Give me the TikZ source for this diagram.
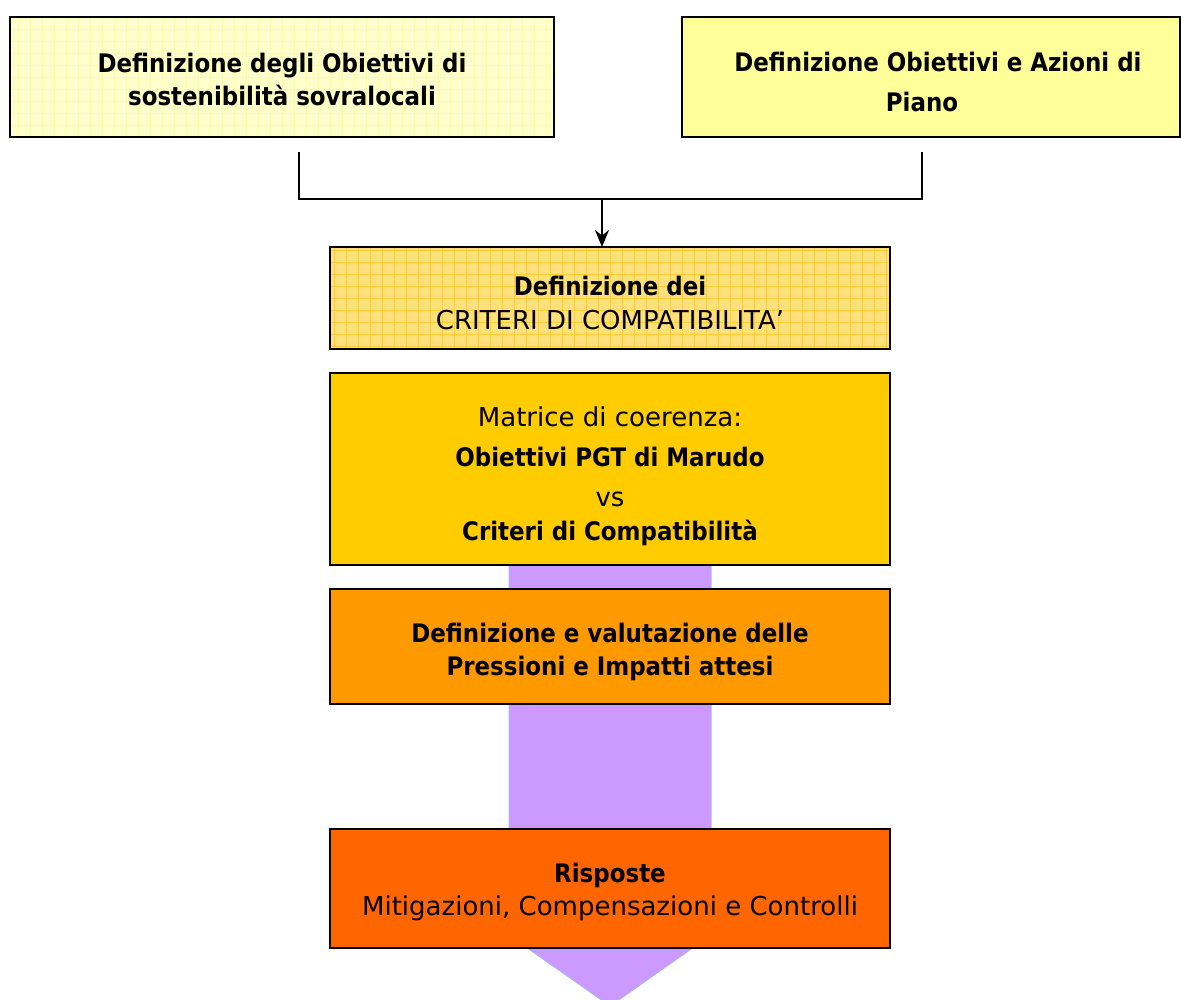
\documentclass[tikz,border=0pt]{standalone}
\usepackage{fontspec}
\setmainfont{DejaVu Sans}[BoldFont={DejaVu Sans Condensed Bold}]
\usetikzlibrary{arrows.meta}
\definecolor{lightY}{HTML}{FFFFCC}
\definecolor{lightYgrid}{HTML}{FFFF99}
\definecolor{plainY}{HTML}{FFFF99}
\definecolor{critFill}{HTML}{FFE07A}
\definecolor{critGrid}{HTML}{FFCC33}
\definecolor{gold}{HTML}{FFCC00}
\definecolor{orangeA}{HTML}{FF9900}
\definecolor{orangeB}{HTML}{FF6600}
\definecolor{lilac}{HTML}{CC99FF}
\definecolor{lilacEdge}{HTML}{A8B4FF}
\newcommand{\regsz}{\fontsize{26}{34}\selectfont\mdseries}
\newcommand{\bsz}[1]{\fontsize{25.5}{#1}\selectfont\bfseries}
\begin{document}
\begin{tikzpicture}[x=1pt,y=-1pt,
  box/.style={draw=black, line width=2.2pt, inner sep=0pt, outer sep=0pt},
  txt/.style={inner sep=0pt, align=center, text=black},
  gridded/.style={path picture={\draw[line width=1pt,#1,step=12pt]
      (path picture bounding box.south west) grid (path picture bounding box.north east);}},
  conn/.style={draw=black, line width=2pt},
  bt/.style={font=\bsz{33}},
]
\useasboundingbox (0,0) rectangle (1181,999);

% big lilac arrow (behind boxes)
\fill[lilac, draw=lilacEdge, line width=1pt]
  (509,560) -- (509,900) -- (459,900) -- (610,1006) -- (761,900) -- (711,900) -- (711,560) -- cycle;

% top boxes
\node[box, fill=lightY, gridded=lightYgrid, minimum width=544pt, minimum height=120pt] (b1) at (282,77) {};
\node[txt, bt] (t1) at ([yshift=-2pt]b1.center) {Definizione degli Obiettivi di\\sostenibilità sovralocali};

\node[box, fill=plainY, minimum width=498pt, minimum height=120pt] (b2) at (931,77) {};
\node[txt, font=\bsz{40}] (t2) at ([yshift=-5pt]b2.center)
  {\hspace*{14pt}Definizione Obiettivi e Azioni di\\Piano\hspace*{18pt}};

% criteria box
\node[box, fill=critFill, gridded=critGrid, minimum width=560pt, minimum height=102pt] (b3) at (610,298) {};
\node[txt, font=\regsz] (t3) at ([yshift=-5pt]b3.center)
  {{\bsz{34}Definizione dei}\\CRITERI DI COMPATIBILITA’};

% matrix box
\node[box, fill=gold, minimum width=560pt, minimum height=192pt] (b4) at (610,469) {};
\node[txt, font=\fontsize{26}{40}\selectfont] (t4) at ([yshift=-7pt]b4.center)
  {Matrice di coerenza:\\
    {\bsz{40}Obiettivi PGT di Marudo}\\
    vs\\[-6pt]
    {\bsz{40}Criteri di Compatibilità}};

% pressures box
\node[box, fill=orangeA, minimum width=560pt, minimum height=115pt] (b5) at (610,646.5) {};
\node[txt, bt] (t5) at ([yshift=-5pt]b5.center) {Definizione e valutazione delle\\Pressioni e Impatti attesi};

% responses box
\node[box, fill=orangeB, minimum width=560pt, minimum height=119pt] (b6) at (610,888.5) {};
\node[txt, font=\fontsize{26}{33}\selectfont] (t6) at ([yshift=-4pt]b6.center)
  {{\bsz{33}Risposte}\\Mitigazioni, Compensazioni e Controlli};

% connectors
\coordinate (c1) at (299,152);
\coordinate (c2) at (922,152);
\coordinate (j) at (602,199);
\draw[conn] (c1) -- (c1 |- j) -- (c2 |- j) -- (c2);
\draw[conn, -{Stealth[length=17pt,width=14pt]}] (j) -- (j |- b3.north);
\end{tikzpicture}
\end{document}
